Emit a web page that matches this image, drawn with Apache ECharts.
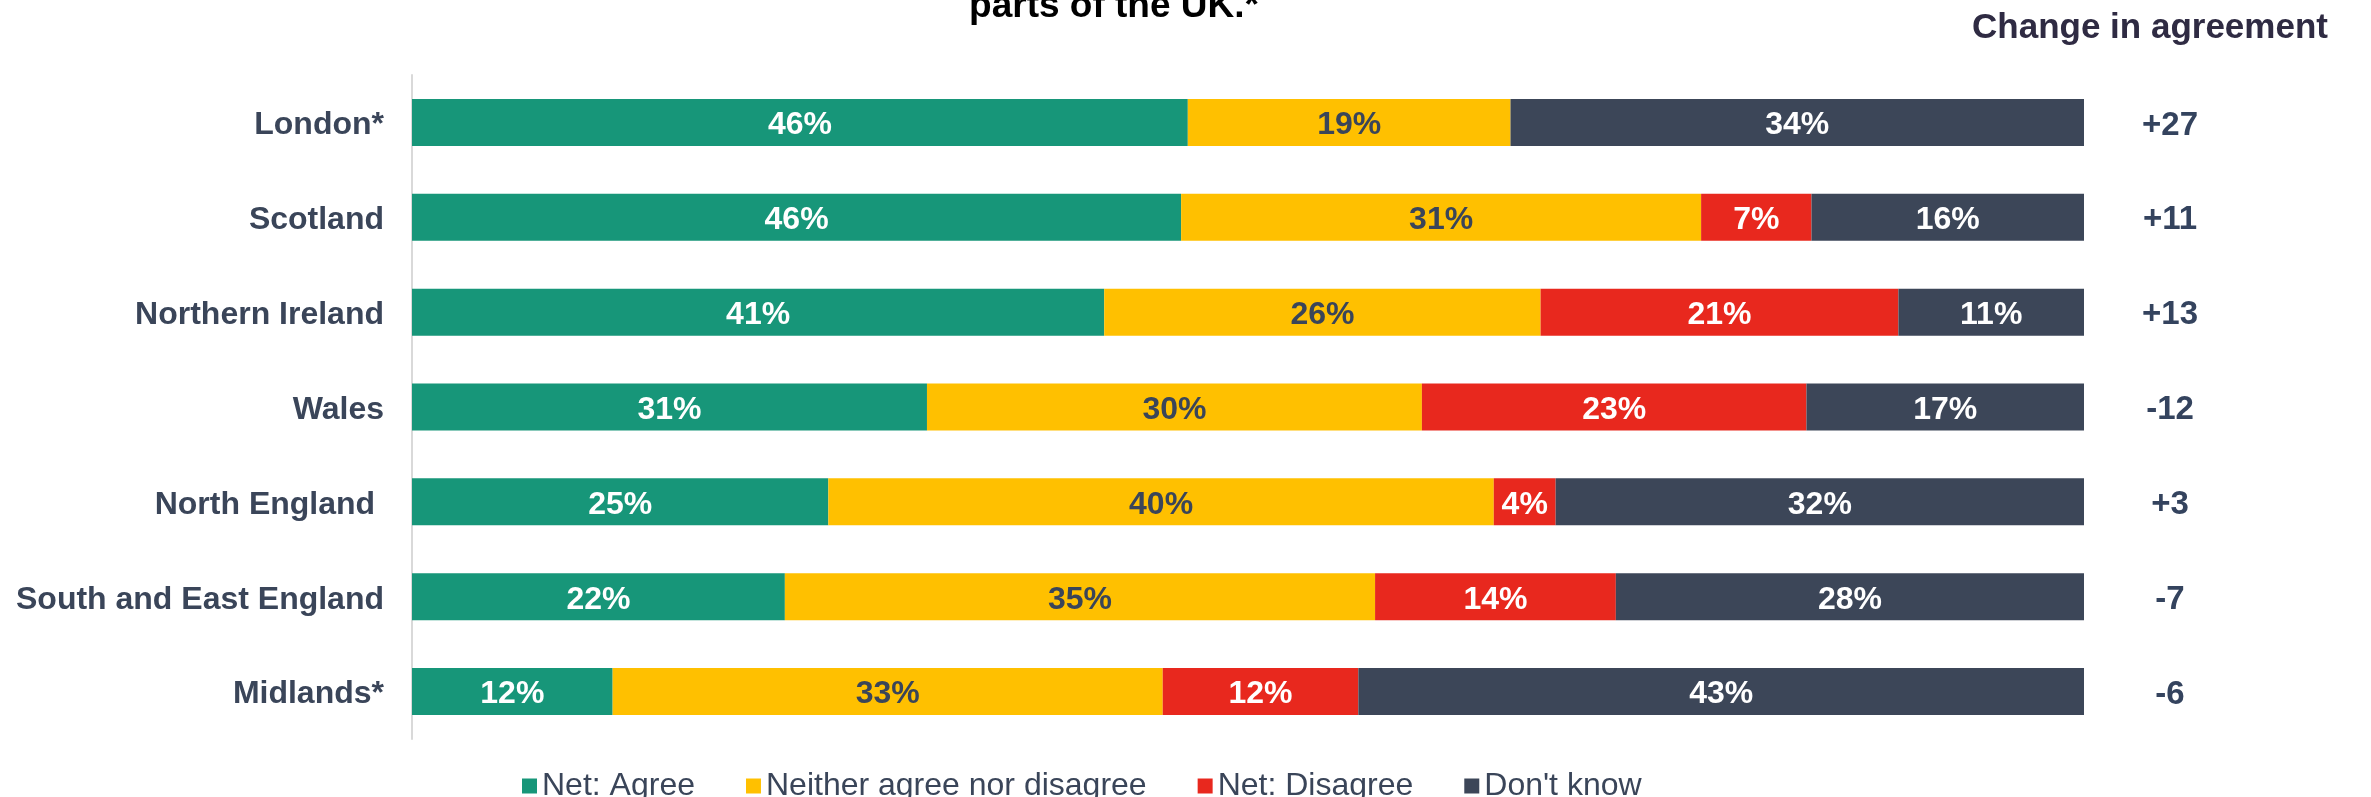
<!DOCTYPE html>
<html>
<head>
<meta charset="utf-8">
<script src="https://cdn.jsdelivr.net/npm/echarts@6/dist/echarts.min.js"></script>
<style>
html,body{margin:0;padding:0;background:#fff;}
#chart{width:2371px;height:797px;}
</style>
</head>
<body>
<div id="chart"></div>
<script>
var categories = ['London*', 'Scotland', 'Northern Ireland', 'Wales', 'North England ', 'South and East England', 'Midlands*'];
var netAgree = [46.4, 46.0, 41.4, 30.8, 24.9, 22.3, 12.0];
var neither = [19.3, 31.1, 26.1, 29.6, 39.8, 35.3, 32.9];
var netDisagree = [0, 6.6, 21.4, 23.0, 3.7, 14.4, 11.7];
var dontKnow = [34.3, 16.3, 11.1, 16.6, 31.6, 28.0, 43.4];
var changeInAgreement = ['+27', '+11', '+13', '-12', '+3', '-7', '-6'];
var seriesNames = ['Net: Agree', 'Neither agree nor disagree', 'Net: Disagree', "Don't know"];
var seriesColors = ['#179679', '#FFC000', '#E8281E', '#3C4658'];
var labelColors = ['#ffffff', '#3a4559', '#ffffff', '#ffffff'];
var seriesData = [netAgree, neither, netDisagree, dontKnow];

var chart = echarts.init(document.getElementById('chart'), null, {renderer: 'canvas'});
var FONT = 'Liberation Sans, Arial, sans-serif';

var series = seriesData.map(function (d, i) {
  return {
    name: seriesNames[i],
    type: 'bar',
    stack: 'total',
    barWidth: 47,
    data: d,
    itemStyle: {color: seriesColors[i]},
    emphasis: {disabled: true},
    label: {
      show: true,
      position: 'inside',
      offset: [0, 3],
      color: labelColors[i],
      fontFamily: FONT,
      fontWeight: 'bold',
      fontSize: 32,
      formatter: function (p) { return p.value >= 1 ? Math.round(p.value) + '%' : ''; }
    }
  };
});

chart.setOption({
  animation: false,
  backgroundColor: '#ffffff',
  grid: {left: 412, right: 287, top: 75, bottom: 58, containLabel: false},
  xAxis: {
    type: 'value', min: 0, max: 100,
    show: false
  },
  yAxis: [{
    type: 'category',
    data: categories,
    inverse: true,
    axisLine: {show: true, lineStyle: {color: '#d9d9d9', width: 2}},
    axisTick: {show: false},
    axisLabel: {
      margin: 28,
      formatter: function (v) { return '{a|' + v + '}'; },
      rich: {
        a: {
          padding: [6, 0, 0, 0],
          color: '#3a4559',
          fontFamily: FONT,
          fontWeight: 'bold',
          fontSize: 32
        }
      }
    }
  }, {
    type: 'category',
    data: changeInAgreement,
    inverse: true,
    position: 'right',
    axisLine: {show: false},
    axisTick: {show: false},
    axisLabel: {
      margin: 86,
      align: 'center',
      formatter: function (v) { return '{a|' + v + '}'; },
      rich: {
        a: {
          padding: [6, 0, 0, 0],
          color: '#34435e',
          fontFamily: FONT,
          fontWeight: 'bold',
          fontSize: 33
        }
      }
    }
  }],
  legend: {
    left: 517,
    top: 765,
    icon: 'rect',
    itemWidth: 15,
    itemHeight: 15,
    itemGap: 51,
    selectedMode: false,
    data: seriesNames,
    textStyle: {
      color: '#3a4559',
      fontFamily: FONT,
      fontSize: 32
    }
  },
  graphic: [{
    type: 'text',
    style: {
      text: 'parts of the UK.*',
      x: 1114, y: 7,
      align: 'center',
      verticalAlign: 'middle',
      fill: '#000000',
      font: 'bold 37px ' + FONT
    }
  }, {
    type: 'text',
    style: {
      text: 'Change in agreement',
      x: 2150, y: 28,
      align: 'center',
      verticalAlign: 'middle',
      fill: '#2f2b43',
      font: 'bold 35px ' + FONT
    }
  }],
  series: series
});
</script>
</body>
</html>
